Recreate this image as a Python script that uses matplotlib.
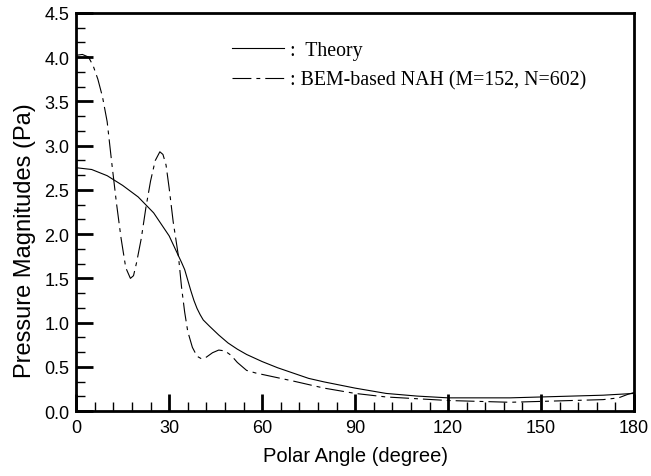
import numpy as np
import matplotlib
matplotlib.use("Agg")
import matplotlib.pyplot as plt
from matplotlib.ticker import MultipleLocator
from matplotlib.lines import Line2D

# Theory curve
theory_angle = [0, 5, 10, 15, 20, 25, 30, 32, 34, 35, 36, 37, 38, 39, 40, 41, 43, 46, 49,
                52, 55, 60, 65, 70, 75, 80, 90, 100, 110, 120, 130, 140, 150, 160, 170, 180]
theory_p = [2.75, 2.73, 2.66, 2.55, 2.42, 2.24, 1.98, 1.83, 1.68, 1.6, 1.48, 1.36, 1.25,
            1.16, 1.09, 1.03, 0.96, 0.86, 0.77, 0.7, 0.64, 0.56, 0.49, 0.43, 0.37, 0.33,
            0.26, 0.2, 0.17, 0.15, 0.15, 0.15, 0.16, 0.17, 0.18, 0.2]

# BEM-based NAH reconstruction
bem_angle = [0, 2, 4, 5.5, 7, 8.5, 10, 11.5, 13, 14.5, 16, 17.5, 18.5, 19.5, 21, 22.5,
             24, 25.5, 27, 28, 29, 30, 31.3, 33, 34, 35, 36, 37.5, 39, 40.5, 42, 44, 46,
             48, 50, 52, 55, 58, 62, 66, 70, 75, 80, 90, 100, 110, 120, 130, 140, 150,
             160, 170, 175, 178, 180]
bem_p = [4.02, 4.03, 4.0, 3.9, 3.75, 3.55, 3.27, 2.8, 2.35, 1.95, 1.62, 1.5, 1.53, 1.68,
         1.95, 2.3, 2.6, 2.83, 2.93, 2.9, 2.78, 2.52, 2.14, 1.75, 1.4, 1.12, 0.9, 0.72,
         0.62, 0.59, 0.61, 0.66, 0.69, 0.68, 0.63, 0.55, 0.46, 0.43, 0.4, 0.37, 0.34,
         0.3, 0.26, 0.2, 0.16, 0.14, 0.12, 0.11, 0.1, 0.11, 0.12, 0.13, 0.15, 0.19, 0.21]

plt.rcParams['font.family'] = ['Liberation Sans', 'DejaVu Sans']

fig = plt.figure(figsize=(6.51, 4.77), dpi=100)
ax = fig.add_axes([0.117, 0.136, 0.857, 0.835])

dashdot = (0, (17, 4.5, 3.5, 4.5))
ax.plot(theory_angle, theory_p, color='black', lw=0.8)
ax.plot(bem_angle, bem_p, color='black', lw=0.8, linestyle=dashdot)

ax.set_xlim(0, 180)
ax.set_ylim(0, 4.5)
ax.xaxis.set_major_locator(MultipleLocator(30))
ax.xaxis.set_minor_locator(MultipleLocator(6))
ax.yaxis.set_major_locator(MultipleLocator(0.5))
ax.yaxis.set_minor_locator(MultipleLocator(0.5 / 3))
ax.yaxis.set_major_formatter(plt.FormatStrFormatter('%.1f'))

ax.tick_params(which='major', direction='in', length=12, width=2, labelsize=13)
ax.tick_params(axis='x', which='major', pad=6)
ax.tick_params(axis='y', which='major', pad=5)
ax.tick_params(which='minor', direction='in', length=6.5, width=1)
for s in ax.spines.values():
    s.set_linewidth(2)

ax.set_xlabel('Polar Angle (degree)', fontsize=14.5, labelpad=7)
ax.set_ylabel('Pressure Magnitudes (Pa)', fontsize=17, labelpad=6)
ax.yaxis.label.set_y(0.43)

handles = [Line2D([], [], color='black', lw=0.8),
           Line2D([], [], color='black', lw=0.8, linestyle=dashdot)]
labels = [':  Theory', ': BEM-based NAH (M=152, N=602)']
ax.legend(handles, labels, loc='upper left', bbox_to_anchor=(0.28, 0.93),
          frameon=False, borderpad=0, borderaxespad=0,
          handlelength=2.6, handletextpad=0.3, labelspacing=0.55,
          prop={'family': 'Liberation Serif', 'size': 14.3})

fig.savefig('out.png', dpi=100)
